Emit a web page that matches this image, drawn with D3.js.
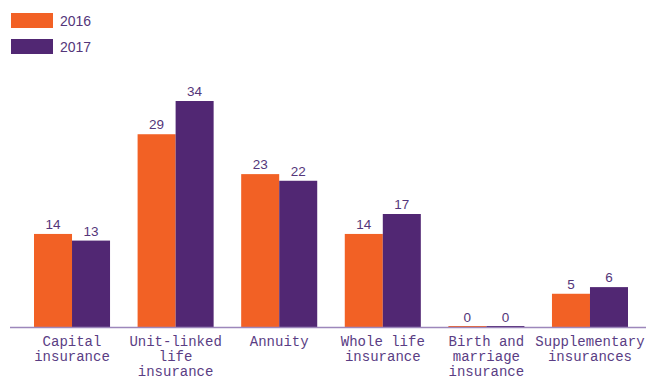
<!DOCTYPE html>
<html>
<head>
<meta charset="utf-8">
<script src="https://cdn.jsdelivr.net/npm/d3@7"></script>
<style>
  html, body { margin: 0; padding: 0; background: #fff; }
  svg { display: block; }
</style>
</head>
<body>
<svg id="chart" width="646" height="380"></svg>
<script>
// Insurance categories (label lines) and yearly values
const categories = [
  ["Capital", "insurance"],
  ["Unit-linked", "life", "insurance"],
  ["Annuity"],
  ["Whole life", "insurance"],
  ["Birth and", "marriage", "insurance"],
  ["Supplementary", "insurances"]
];
const years = ["2016", "2017"];
const values2016 = [14, 29, 23, 14, 0, 5];
const values2017 = [13, 34, 22, 17, 0, 6];

const colors = { "2016": "#f26125", "2017": "#512773" };
const textColor = "#54367a";
const monoFont = "'Liberation Mono', 'DejaVu Sans Mono', monospace";
const sansFont = "'Liberation Sans', Arial, sans-serif";

const svg = d3.select("#chart");
const baseline = 327;

const x0 = d3.scaleBand()
  .domain(d3.range(categories.length))
  .range([34, 628])
  .paddingInner(0.266)
  .paddingOuter(0);

const x1 = d3.scaleBand()
  .domain(years)
  .range([0, x0.bandwidth()]);

const y = d3.scaleLinear()
  .domain([0, 34])
  .range([baseline, 101]);

const rows = categories.map((c, i) => ({
  i,
  vals: [
    { year: "2016", v: values2016[i] },
    { year: "2017", v: values2017[i] }
  ]
}));

const groups = svg.append("g").selectAll("g")
  .data(rows).join("g")
  .attr("transform", d => `translate(${x0(d.i)},0)`);

groups.selectAll("rect")
  .data(d => d.vals).join("rect")
  .attr("x", d => x1(d.year))
  .attr("width", x1.bandwidth())
  .attr("y", d => Math.min(y(d.v), baseline - 1))
  .attr("height", d => Math.max(baseline - y(d.v), 1))
  .attr("fill", d => colors[d.year]);

groups.selectAll("text.val")
  .data(d => d.vals).join("text")
  .attr("class", "val")
  .attr("x", d => x1(d.year) + x1.bandwidth() / 2)
  .attr("y", d => y(d.v) - 5)
  .attr("text-anchor", "middle")
  .attr("font-family", sansFont)
  .attr("font-size", 13.5)
  .attr("fill", textColor)
  .text(d => d.v);

// Baseline axis
const xAxis = d3.axisBottom(x0).tickSize(0).tickFormat("");
const axisG = svg.append("g")
  .attr("transform", `translate(0,${baseline})`)
  .call(xAxis);
axisG.select(".domain").remove();
axisG.append("line")
  .attr("x1", 10).attr("x2", 646)
  .attr("y1", 0.5).attr("y2", 0.5)
  .attr("stroke", "#9d87bb")
  .attr("stroke-width", 1.5);

// Category labels (multi-line)
const labels = svg.append("g").selectAll("text")
  .data(categories).join("text")
  .attr("x", (d, i) => x0(i) + x0.bandwidth() / 2)
  .attr("y", 346)
  .attr("text-anchor", "middle")
  .attr("font-family", monoFont)
  .attr("font-size", 14)
  .attr("fill", "#5a3d84");
labels.selectAll("tspan")
  .data(d => d).join("tspan")
  .attr("x", function () { return this.parentNode.getAttribute("x"); })
  .attr("dy", (d, j) => j === 0 ? 0 : 15)
  .text(d => d);

// Legend
const legend = svg.append("g").selectAll("g")
  .data(years).join("g")
  .attr("transform", (d, i) => `translate(11,${13 + i * 26})`);
legend.append("rect")
  .attr("width", 42).attr("height", 15)
  .attr("fill", d => colors[d]);
legend.append("text")
  .attr("x", 49).attr("y", 13)
  .attr("font-family", sansFont)
  .attr("font-size", 14)
  .attr("fill", textColor)
  .text(d => d);
</script>
</body>
</html>
